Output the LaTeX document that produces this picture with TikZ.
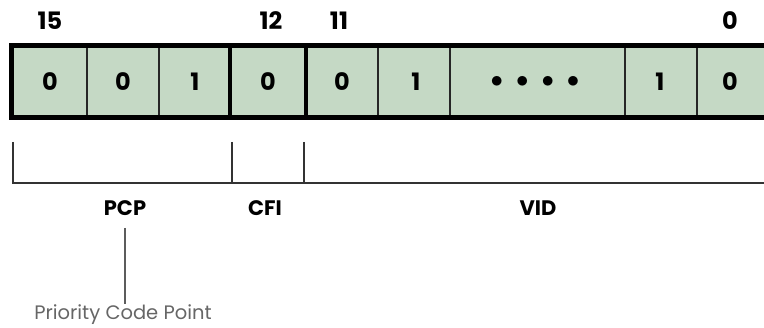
\documentclass[tikz,border=0pt]{standalone}
\usepackage{fontspec}
\setmainfont{Poppins}
\definecolor{cellfill}{HTML}{C5D9C5}
\definecolor{brk}{HTML}{333333}
\definecolor{note}{HTML}{666666}
\begin{document}
\begin{tikzpicture}[x=1pt,y=-1pt,
  bit/.style={font=\fontsize{24}{26}\selectfont\bfseries, inner sep=0pt},
  field/.style={font=\fontsize{21}{24}\selectfont\bfseries, inner sep=0pt},
  thick border/.style={line width=5pt},
  thin div/.style={line width=1.3pt, draw=black!85},
  bracket/.style={line width=1.4pt, draw=brk},
  notetext/.style={font=\fontsize{19.5}{22}\selectfont, text=note, inner sep=0pt}]
\useasboundingbox (0,0) rectangle (764,328);
\begin{scope}
\clip (0,0) rectangle (764,328);
\fill[cellfill] (11,45.5) rectangle (769,117.5);
\foreach \x in {87,159,378,450,625,697} \draw[thin div] (\x,45.5) -- (\x,117.5);
\foreach \x in {230,306} \draw[line width=4.5pt] (\x,45.5) -- (\x,117.5);
\draw[thick border] (11,45.5) rectangle (769,117.5);
\end{scope}
% bit positions
\node[bit] (b15) at (50,21) {15};
\node[bit] (b12) at (271,21) {12};
\node[bit] (b11) at (339,21) {11};
\node[bit] (b0) at (730,21) {0};
% cell values
\node[bit] (c1) at (50,81.5) {0};
\node[bit] (c2) at (123,81.5) {0};
\node[bit] (c3) at (195,81.5) {1};
\node[bit] (c4) at (268,81.5) {0};
\node[bit] (c5) at (342,81.5) {0};
\node[bit] (c6) at (416,81.5) {1};
\node[bit] (c7) at (535,81.5) {$\bullet$\hspace{13pt}$\bullet$\hspace{13pt}$\bullet$\hspace{13pt}$\bullet$};
\node[bit] (c8) at (660,81.5) {1};
\node[bit] (c9) at (730,81.5) {0};
% brackets
\coordinate (k0) at (13,142);
\coordinate (k1) at (232,142);
\coordinate (k2) at (304,142);
\draw[bracket] (k0) -- (13,183) -- (766,183);
\draw[bracket] (k1) -- (232,183);
\draw[bracket] (k2) -- (304,183);
% field names
\node[field] (pcp) at (125,208) {PCP};
\node[field] (cfi) at (265,208) {CFI};
\node[field] (vid) at (538,208) {VID};
\node[notetext, anchor=north] (prio) at (123,304) {Priority Code Point};
\draw[line width=1.4pt, draw=note!90!black] (125,228) -- (prio.north -| 125,0);
\end{tikzpicture}
\end{document}
